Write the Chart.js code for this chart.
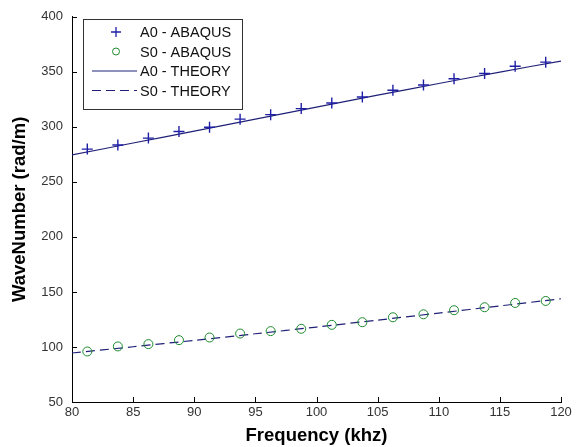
<!DOCTYPE html>
<html>
<head>
<meta charset="utf-8">
<script src="https://cdn.jsdelivr.net/npm/chart.js@4"></script>
<style>
  html, body { margin: 0; padding: 0; background: #fff; }
  #wrap { width: 579px; height: 447px; }
</style>
</head>
<body>
<div id="wrap"><canvas id="myChart" width="579" height="447"></canvas></div>
<script>
// data
const freqAbaqus = [81.25, 83.75, 86.25, 88.75, 91.25, 93.75, 96.25, 98.75,
                    101.25, 103.75, 106.25, 108.75, 111.25, 113.75, 116.25, 118.75];
const a0Abaqus = [279.8, 283.5, 289.8, 295.8, 299.7, 307, 311.1, 316.6,
                  321.7, 327.1, 333.2, 338, 343.7, 348.5, 355.1, 358.8];
const s0Abaqus = [95.9, 100.5, 102.6, 106.2, 108.6, 112.2, 114.4, 116.5,
                  120.1, 122.5, 127, 129.7, 133.4, 136.1, 140, 141.8];

const freqTheory = [80, 85, 90, 95, 100, 105, 110, 115, 120];
const a0Theory = [274.5, 285.3, 296.2, 307.1, 318, 328.8, 339.4, 349.8, 359.8];
const s0Theory = [94.5, 100.2, 106, 112, 118.1, 124.4, 130.8, 137.3, 143.8];

const legendLabels = ['A0 - ABAQUS', 'S0 - ABAQUS', 'A0 - THEORY', 'S0 - THEORY'];

const pairs = (xs, ys) => xs.map((x, i) => ({x: x, y: ys[i]}));

const lineColor = '#202078';
const plusColor = '#1f1fa6';
const circColor = '#1d8a2e';
const font = '"Liberation Sans", Arial, sans-serif';

// inward tick marks like the original plot
const innerTicks = {
  id: 'innerTicks',
  afterDraw(chart) {
    const c = chart.ctx, a = chart.chartArea;
    const xs = chart.scales.x, ys = chart.scales.y;
    c.save();
    c.strokeStyle = '#000';
    c.lineWidth = 1;
    c.beginPath();
    xs.ticks.forEach(t => {
      const px = Math.round(xs.getPixelForValue(t.value)) + 0.5;
      c.moveTo(px, a.bottom);
      c.lineTo(px, a.bottom - 5);
    });
    ys.ticks.forEach(t => {
      const py = Math.round(ys.getPixelForValue(t.value)) + 0.5;
      c.moveTo(a.left, py);
      c.lineTo(a.left + 5, py);
    });
    c.stroke();
    c.restore();
  }
};

// boxed legend inside the top-left corner
const boxLegend = {
  id: 'boxLegend',
  afterDraw(chart) {
    const c = chart.ctx;
    const bx = 83, by = 19, bw = 159, bh = 90;
    c.save();
    c.fillStyle = '#fff';
    c.fillRect(bx, by, bw, bh);
    c.strokeStyle = '#333';
    c.lineWidth = 1;
    c.strokeRect(bx + 0.5, by + 0.5, bw, bh);
    c.font = '14.5px ' + font;
    c.textBaseline = 'middle';
    legendLabels.forEach((lab, i) => {
      const y = by + 13 + i * 19.5;
      const ds = chart.data.datasets[i];
      c.fillStyle = '#111';
      c.fillText(lab, 140, y + 1);
      if (i === 0) {
        c.strokeStyle = ds.borderColor;
        c.lineWidth = 1.3;
        c.beginPath();
        c.moveTo(111, y); c.lineTo(121, y);
        c.moveTo(116, y - 5); c.lineTo(116, y + 5);
        c.stroke();
      } else if (i === 1) {
        c.strokeStyle = ds.borderColor;
        c.lineWidth = 1;
        c.beginPath();
        c.arc(116, y, 3.5, 0, Math.PI * 2);
        c.stroke();
      } else {
        c.strokeStyle = ds.borderColor;
        c.lineWidth = 1;
        c.setLineDash(ds.borderDash || []);
        c.beginPath();
        c.moveTo(92, y); c.lineTo(137, y);
        c.stroke();
        c.setLineDash([]);
      }
    });
    c.restore();
  }
};

const ctx = document.getElementById('myChart');
const myChart = new Chart(ctx, {
  type: 'scatter',
  data: {
    datasets: [
      {
        label: legendLabels[0],
        data: pairs(freqAbaqus, a0Abaqus),
        pointStyle: 'cross',
        pointRadius: 5.5,
        borderColor: plusColor,
        backgroundColor: plusColor,
        pointBorderWidth: 1.4,
        showLine: false,
        order: 1
      },
      {
        label: legendLabels[1],
        data: pairs(freqAbaqus, s0Abaqus),
        pointStyle: 'circle',
        pointRadius: 4.5,
        borderColor: circColor,
        backgroundColor: 'rgba(0,0,0,0)',
        pointBorderWidth: 1,
        showLine: false,
        order: 1
      },
      {
        label: legendLabels[2],
        data: pairs(freqTheory, a0Theory),
        showLine: true,
        borderColor: lineColor,
        borderWidth: 1.2,
        pointRadius: 0,
        tension: 0.3,
        order: 2
      },
      {
        label: legendLabels[3],
        data: pairs(freqTheory, s0Theory),
        showLine: true,
        borderColor: lineColor,
        borderWidth: 1.2,
        borderDash: [9, 5],
        pointRadius: 0,
        tension: 0.3,
        order: 2
      }
    ]
  },
  options: {
    responsive: false,
    animation: false,
    layout: { padding: { top: 15, right: 18, left: 9, bottom: 0 } },
    plugins: {
      legend: { display: false },
      tooltip: { enabled: false }
    },
    scales: {
      x: {
        type: 'linear',
        min: 80, max: 120,
        afterFit: s => { s.height = 45; },
        border: { display: true, color: '#000' },
        grid: { display: false, drawTicks: false },
        ticks: {
          stepSize: 5,
          padding: 3,
          maxRotation: 0,
          color: '#333',
          font: { family: font, size: 13 }
        },
        title: {
          display: true,
          text: 'Frequency (khz)',
          color: '#000',
          padding: { top: 0, bottom: 0 },
          font: { family: font, size: 18.5, weight: 'bold' }
        }
      },
      y: {
        type: 'linear',
        min: 50, max: 400,
        afterFit: s => { s.width = 63; },
        border: { display: true, color: '#000' },
        grid: { display: false, drawTicks: false },
        ticks: {
          stepSize: 50,
          padding: 9,
          color: '#333',
          font: { family: font, size: 13 }
        },
        title: {
          display: true,
          text: 'WaveNumber (rad/m)',
          color: '#000',
          padding: { top: 0, bottom: 0 },
          font: { family: font, size: 18.5, weight: 'bold' }
        }
      }
    }
  },
  plugins: [innerTicks, boxLegend]
});
</script>
</body>
</html>
